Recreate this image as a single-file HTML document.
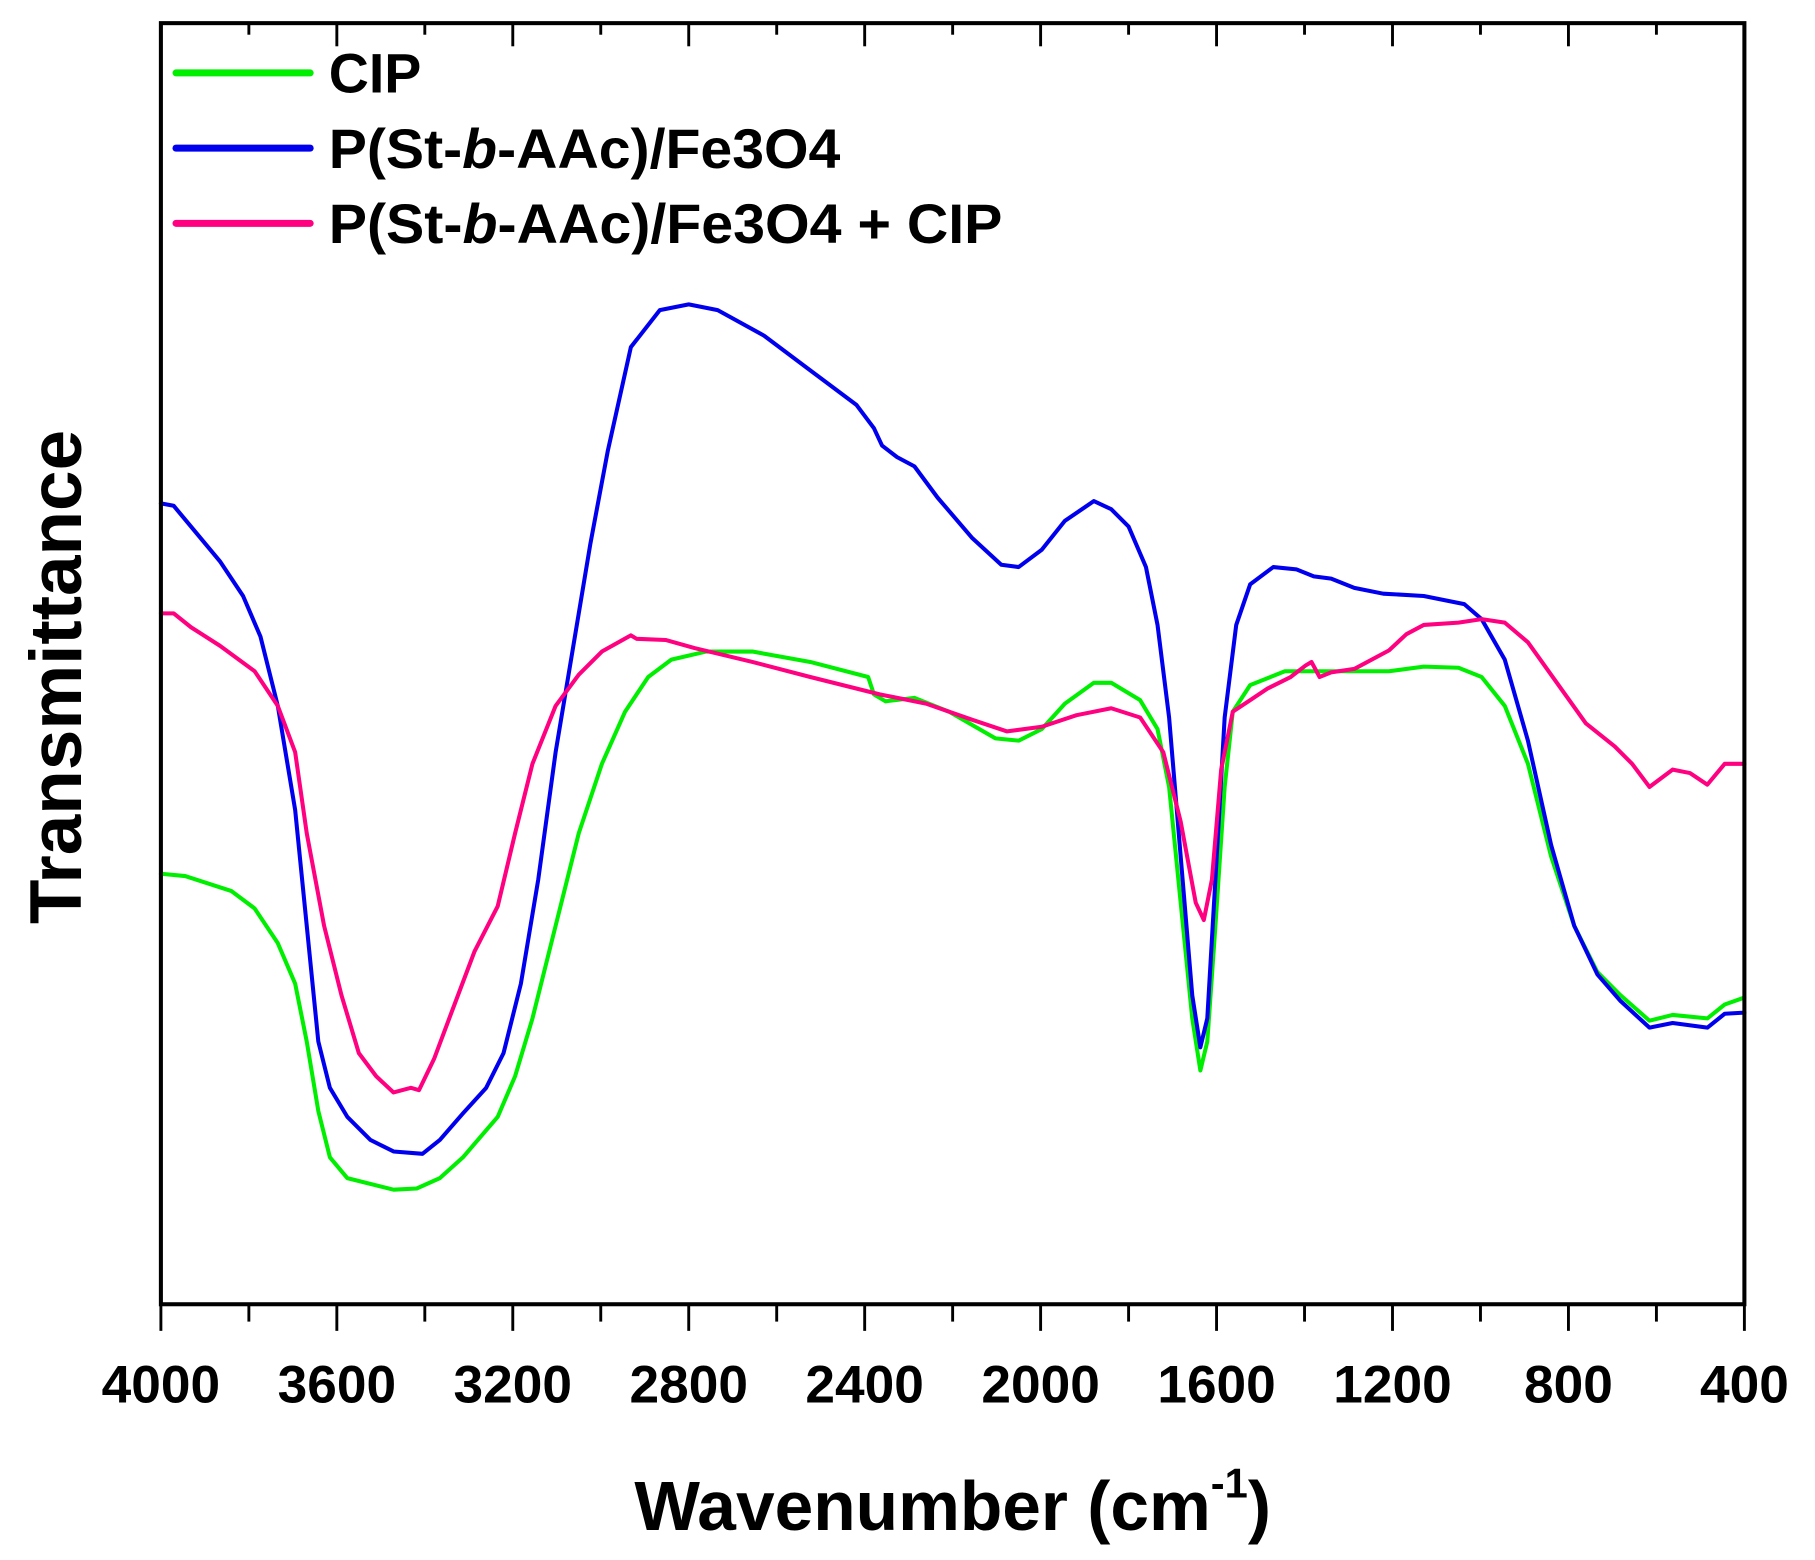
<!DOCTYPE html>
<html><head><meta charset="utf-8"><style>html,body{margin:0;padding:0;background:#fff}svg{display:block}</style></head>
<body>
<svg width="1815" height="1560" viewBox="0 0 1568 1348" preserveAspectRatio="none" xmlns="http://www.w3.org/2000/svg" font-family="Liberation Sans, Arial, sans-serif" font-weight="bold">
<rect width="1568" height="1348" fill="#fff"/>
<g stroke="#000" stroke-width="2.5">
<line x1="139" y1="1127" x2="139" y2="1150"/><line x1="215" y1="1127" x2="215" y2="1142"/>
<line x1="291" y1="1127" x2="291" y2="1150"/><line x1="367" y1="1127" x2="367" y2="1142"/>
<line x1="443" y1="1127" x2="443" y2="1150"/><line x1="519" y1="1127" x2="519" y2="1142"/>
<line x1="595" y1="1127" x2="595" y2="1150"/><line x1="671" y1="1127" x2="671" y2="1142"/>
<line x1="747" y1="1127" x2="747" y2="1150"/><line x1="823" y1="1127" x2="823" y2="1142"/>
<line x1="899" y1="1127" x2="899" y2="1150"/><line x1="975" y1="1127" x2="975" y2="1142"/>
<line x1="1051" y1="1127" x2="1051" y2="1150"/><line x1="1127" y1="1127" x2="1127" y2="1142"/>
<line x1="1203" y1="1127" x2="1203" y2="1150"/><line x1="1279" y1="1127" x2="1279" y2="1142"/>
<line x1="1355" y1="1127" x2="1355" y2="1150"/><line x1="1431" y1="1127" x2="1431" y2="1142"/>
<line x1="1507" y1="1127" x2="1507" y2="1150"/>
<line x1="215" y1="20" x2="215" y2="30"/><line x1="291" y1="20" x2="291" y2="40"/>
<line x1="367" y1="20" x2="367" y2="30"/><line x1="443" y1="20" x2="443" y2="40"/>
<line x1="519" y1="20" x2="519" y2="30"/><line x1="595" y1="20" x2="595" y2="40"/>
<line x1="671" y1="20" x2="671" y2="30"/><line x1="747" y1="20" x2="747" y2="40"/>
<line x1="823" y1="20" x2="823" y2="30"/><line x1="899" y1="20" x2="899" y2="40"/>
<line x1="975" y1="20" x2="975" y2="30"/><line x1="1051" y1="20" x2="1051" y2="40"/>
<line x1="1127" y1="20" x2="1127" y2="30"/><line x1="1203" y1="20" x2="1203" y2="40"/>
<line x1="1279" y1="20" x2="1279" y2="30"/><line x1="1355" y1="20" x2="1355" y2="40"/>
<line x1="1431" y1="20" x2="1431" y2="30"/>
</g>
<g fill="none" stroke-width="3.5" stroke-linejoin="round" stroke-linecap="round">
<polyline stroke="#00ee00" points="139,755 160,757 200,770 220,785 240,815 255,850 265,900 275,960 285,1000 300,1018 340,1028 360,1027 380,1018 400,1000 430,965 445,930 460,880 480,800 500,720 520,660 540,615 560,585 580,570 610,563 650,563 700,572 750,585 755,600 765,606 790,603 820,615 860,638 880,640 900,630 920,608 945,590 960,590 985,605 1000,630 1010,680 1020,780 1030,880 1037,925 1043,900 1050,800 1058,680 1065,615 1080,592 1110,580 1140,580 1200,580 1230,576 1260,577 1280,585 1300,610 1320,660 1340,740 1360,800 1380,840 1400,860 1425,882 1445,877 1475,880 1490,868 1507,862"/>
<polyline stroke="#0000ee" points="139,435 150,437 165,455 190,485 210,515 225,550 240,610 255,700 265,800 275,900 285,940 300,965 320,985 340,995 365,997 380,985 400,962 420,940 435,910 450,850 465,760 480,650 495,560 510,470 525,390 545,300 570,268 595,263 620,268 660,290 700,320 740,350 755,370 762,385 775,395 790,403 810,430 840,465 865,488 880,490 900,475 920,450 945,433 960,440 975,455 990,490 1000,540 1010,620 1020,740 1030,860 1037,905 1043,880 1050,760 1058,620 1068,540 1080,505 1100,490 1120,492 1135,498 1150,500 1170,508 1195,513 1230,515 1265,522 1280,535 1300,570 1320,640 1340,730 1360,800 1380,842 1400,865 1425,888 1445,884 1475,888 1490,876 1507,875"/>
<polyline stroke="#ff0080" points="139,530 150,530 165,542 190,558 220,580 240,610 255,650 265,720 280,800 295,860 310,910 325,930 340,944 355,940 362,942 375,915 390,875 410,822 430,783 445,720 460,660 480,610 500,583 520,563 545,549 550,552 575,553 600,560 650,572 700,585 760,600 800,608 840,622 870,632 900,628 930,618 960,612 985,620 1005,650 1020,710 1033,780 1040,795 1047,760 1055,665 1065,615 1080,605 1095,595 1115,585 1128,575 1133,572 1140,585 1150,581 1170,578 1200,562 1215,548 1230,540 1260,538 1280,535 1300,538 1320,555 1345,590 1370,625 1395,645 1410,660 1425,680 1445,665 1460,668 1475,678 1490,660 1507,660"/>
</g>
<rect x="139" y="20" width="1368" height="1107" fill="none" stroke="#000" stroke-width="3.5"/>
<g stroke-width="6" stroke-linecap="round">
<line x1="152" y1="63" x2="268" y2="63" stroke="#00ee00"/>
<line x1="152" y1="128" x2="268" y2="128" stroke="#0000ee"/>
<line x1="152" y1="193" x2="268" y2="193" stroke="#ff0080"/>
</g>
<g font-size="48" fill="#000">
<text x="284" y="80">CIP</text>
<text x="284" y="145" textLength="442" lengthAdjust="spacingAndGlyphs">P(St-<tspan font-style="italic">b</tspan>-AAc)/Fe3O4</text>
<text x="284" y="210" textLength="582" lengthAdjust="spacingAndGlyphs">P(St-<tspan font-style="italic">b</tspan>-AAc)/Fe3O4 + CIP</text>
</g>
<g font-size="46" text-anchor="middle" fill="#000">
<text x="139" y="1212">4000</text><text x="291" y="1212">3600</text><text x="443" y="1212">3200</text>
<text x="595" y="1212">2800</text><text x="747" y="1212">2400</text><text x="899" y="1212">2000</text>
<text x="1051" y="1212">1600</text><text x="1203" y="1212">1200</text><text x="1355" y="1212">800</text>
<text x="1507" y="1212">400</text>
</g>
<text x="823" y="1322" font-size="60" text-anchor="middle" textLength="550" lengthAdjust="spacingAndGlyphs">Wavenumber (cm<tspan font-size="36" dy="-28">-1</tspan><tspan dy="28">)</tspan></text>
<text transform="translate(70,585) rotate(-90)" font-size="63" text-anchor="middle">Transmittance</text>
</svg>
</body></html>
